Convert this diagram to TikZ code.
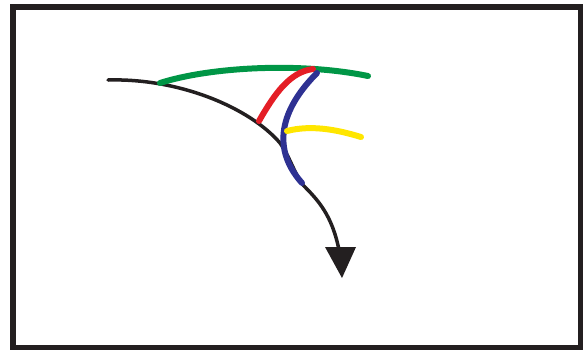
\documentclass[tikz,border=0pt]{standalone}
\definecolor{cgreen}{RGB}{0,150,70}
\definecolor{cred}{RGB}{228,30,38}
\definecolor{cblue}{RGB}{46,49,146}
\definecolor{cyellow}{RGB}{255,230,0}
\definecolor{cblack}{RGB}{35,31,32}
\begin{document}
\begin{tikzpicture}[x=1pt,y=-1pt,
  stroke/.style={line width=6pt,line cap=round},
  thin stroke/.style={line width=3.5pt,line cap=round,color=cblack}]
\useasboundingbox (0,0) rectangle (583,349);
\draw[line width=6pt,cblack] (13,7) rectangle (580.5,347.5);
% black curve
\draw[thin stroke] (108,80) .. controls (180,78) and (250,108) .. (280,143)
  .. controls (290,157) and (295,175) .. (303,185)
  .. controls (318,200) and (332,215) .. (339,250);
\fill[cblack] (325,247) -- (356,247) -- (342,278) -- cycle;
% green
\draw[stroke,cgreen] (160,83) .. controls (210,67) and (300,62) .. (368,76);
% red
\draw[stroke,cred] (259,121) .. controls (275,93) and (290,72) .. (313,69);
% blue
\draw[stroke,cblue] (317,73) .. controls (285,105) and (268,145) .. (302,183);
% yellow
\draw[stroke,cyellow] (287,131) .. controls (310,125) and (335,129) .. (361,137);
\end{tikzpicture}
\end{document}
